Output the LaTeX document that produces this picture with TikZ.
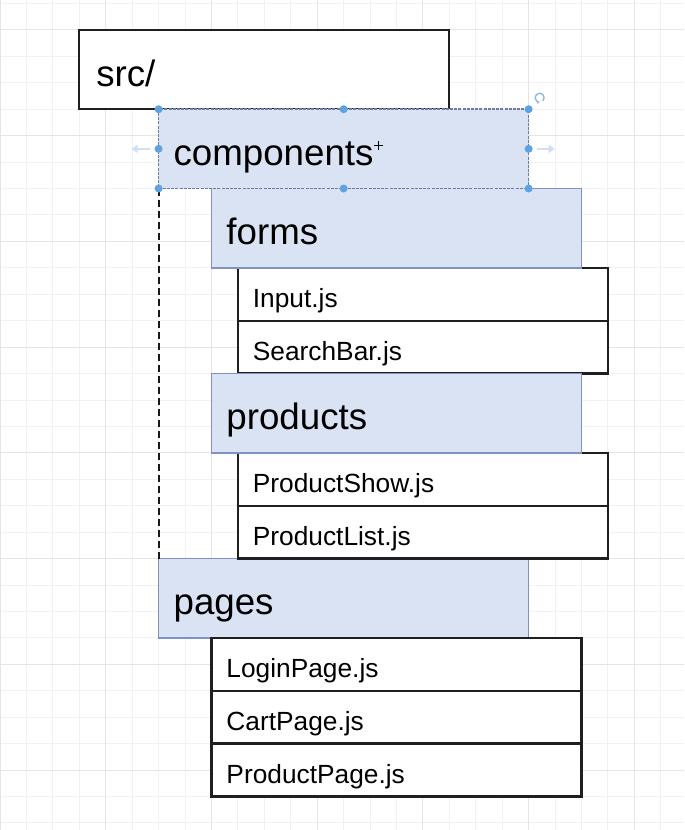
\documentclass[tikz,border=0pt]{standalone}
\usepackage{fontspec}
\setmainfont{Liberation Sans}
\usetikzlibrary{arrows.meta}
\definecolor{gridminor}{HTML}{F1F1F1}
\definecolor{gridmajor}{HTML}{E5E5E5}
\definecolor{folderfill}{HTML}{DAE3F3}
\definecolor{folderline}{HTML}{7F92C2}
\definecolor{selline}{HTML}{6A7BA4}
\definecolor{handle}{HTML}{5FA2E2}
\definecolor{ghost}{HTML}{CFE0F2}
\definecolor{roticon}{HTML}{8DB6E0}
\begin{document}
\begin{tikzpicture}[x=26.43pt,y=-26.43pt,
  base/.style={anchor=north west, rectangle, inner xsep=15pt, inner ysep=0pt,
    outer sep=0pt, align=left, minimum width=370.02pt, text width=340pt},
  folder/.style={base, fill=folderfill, draw=folderline, line width=1.6pt,
    font=\fontsize{36.7}{40}\selectfont, text height=33pt, text depth=0pt,
    minimum height=79.29pt},
  file/.style={base, fill=white, draw=black!88, line width=2.2pt,
    font=\fontsize{26.3}{30}\selectfont, text height=27pt, text depth=0pt,
    minimum height=52.86pt},
  selected/.style={folder, draw=selline, line width=1.7pt, dash pattern=on 3pt off 1.2pt},
  hdl/.style={fill=handle},
  ghostarrow/.style={draw=ghost, line width=2.4pt, -{Triangle[length=6pt,width=8pt]}},
]
\useasboundingbox (0,-0.1324) rectangle (25.88,31.27);
\fill[white] (0,-0.1324) rectangle (25.88,31.27);
% grid
\foreach \i in {0,...,25} {\draw[gridminor, line width=0.9pt] (\i,-0.1324) -- (\i,31.27);}
\foreach \j in {0,...,31} {\draw[gridminor, line width=0.9pt] (0,\j) -- (25.88,\j);}
\foreach \i in {0,4,...,24} {\draw[gridmajor, line width=1pt] (\i,-0.1324) -- (\i,31.27);}
\foreach \j in {1,5,...,29} {\draw[gridmajor, line width=1pt] (0,\j) -- (25.88,\j);}

% boxes
\node[file, font=\fontsize{36.7}{40}\selectfont, text height=33pt, minimum height=79.29pt, inner xsep=17pt, text width=336pt] (src) at (3,1) {src/};
\node[file] (input) at (9,10) {Input.js};
\node[file] (search) at (9,12) {SearchBar.js};
\node[file] (show) at (9,17) {ProductShow.js};
\node[folder] (forms) at (8,7) {forms};
\node[folder] (products) at (8,14) {products};
\node[folder] (pages) at (6,21) {pages};
\node[file] (list) at (9,19) {ProductList.js};
\node[file] (login) at (8,24) {LoginPage.js};
\node[file] (cart) at (8,26) {CartPage.js};
\node[file] (ppage) at (8,28) {ProductPage.js};
\node[selected] (components) at (6,4) {components};

% dashed connector
\draw[black!90, line width=2pt, dash pattern=on 7pt off 4pt] (components.south west) -- (pages.north west);

% selection handles
\foreach \a in {north west,north,north east,west,east,south west,south,south east}
  {\fill[hdl] (components.\a) circle (4pt);}
\draw[ghostarrow] ([xshift=-9pt]components.west) -- ([xshift=-27pt]components.west);
\draw[ghostarrow] ([xshift=8pt]components.east) -- ([xshift=26pt]components.east);
\draw[roticon, line width=1.3pt, -{Stealth[length=2.5pt,width=3.5pt]}]
  ([xshift=11pt,yshift=11.5pt]components.north east) ++(-45:4.5pt) arc[start angle=-45, end angle=270, radius=4.5pt];
% cursor
\draw[black, line width=1.1pt] ([xshift=219.5pt,yshift=-36.5pt]components.north west) ++(-4.5pt,0) -- ++(9pt,0);
\draw[black, line width=1.1pt] ([xshift=219.5pt,yshift=-36.5pt]components.north west) ++(0,-4.5pt) -- ++(0,9pt);
\end{tikzpicture}
\end{document}
